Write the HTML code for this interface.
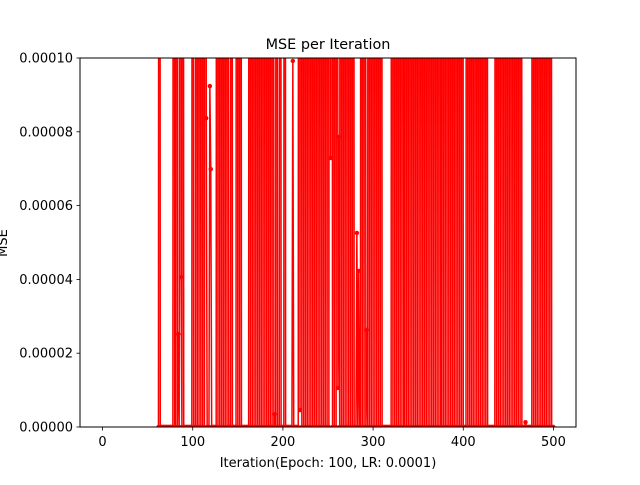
<!DOCTYPE html>
<html><head><meta charset="utf-8"><style>
body{margin:0;background:#fff}
svg text{font-family:"DejaVu Sans","Liberation Sans",sans-serif;fill:#000}
</style></head><body>
<svg id="chart" width="640" height="480" viewBox="0 0 640 480" xmlns="http://www.w3.org/2000/svg">
<rect width="640" height="480" fill="#fff"/>
<text x="328" y="49" font-size="14.4" text-anchor="middle">MSE per Iteration</text>
<defs><clipPath id="plotclip"><rect x="80" y="58" width="496" height="369"/></clipPath></defs>
<g id="series" clip-path="url(#plotclip)"></g>
<rect x="80" y="58" width="496" height="369" fill="none" stroke="#000" stroke-width="1"/>
<g id="xticks"></g>
<g id="yticks"></g>
<text x="328" y="467" font-size="13" text-anchor="middle">Iteration(Epoch: 100, LR: 0.0001)</text>
<text x="0" y="0" font-size="13" text-anchor="middle" transform="translate(7,243) rotate(-90)">MSE</text>
</svg>
<script>
const firstIter = 62;
const lastIter = 500;
const highIters = [63,79,82,86,89,100,104,106,108,110,112,114,127,129,131,133,135,137,139,143,149,151,153,
163,165,167,169,171,173,175,177,179,181,183,185,187,189,193,197,202,
218,220,222,224,226,228,230,232,234,236,238,240,242,244,246,248,250,252,254,256,258,260,264,266,268,270,272,274,276,278,
287,289,291,293,295,297,299,301,303,305,307,309,
321,323,325,327,329,331,333,336,338,340,342,344,346,348,350,352,354,356,358,360,362,364,366,368,370,372,374,
377,379,381,383,385,387,389,391,393,395,397,399,404,406,408,410,412,414,416,418,420,422,424,426,
436,438,440,442,444,446,448,450,452,454,456,458,460,462,464,477,479,481,483,485,487,489,491,493,495,497];
const highValue = 0.01;
const midIters = [84,87,115,119,120,191,211,219,253,261,262,282,284,293,469];
const midVals = [0.0000252,0.0000406,0.0000837,0.0000924,0.0000699,0.0000035,0.0000992,0.0000046,0.0000729,0.0000106,0.0000786,0.0000526,0.0000423,0.0000263,0.0000013];
const xTicks = [0,100,200,300,400,500];
const yTicks = [0,0.00002,0.00004,0.00006,0.00008,0.0001];
const yTickLabels = ["0.00000","0.00002","0.00004","0.00006","0.00008","0.00010"];

const values = new Array(lastIter + 1).fill(0);
highIters.forEach(i => values[i] = highValue);
midIters.forEach((i,k) => values[i] = midVals[k]);

const X = v => 80 + (v + 25) / 550 * 496;
const Y = v => 427 - v / 0.0001 * 369;
const NS = "http://www.w3.org/2000/svg";
const mk = (tag, attrs, parent) => { const e = document.createElementNS(NS, tag); for (const k in attrs) e.setAttribute(k, attrs[k]); parent.appendChild(e); return e; };

const g = document.getElementById('series');
const pts = [];
for (let i = firstIter; i <= lastIter; i++) pts.push(X(i).toFixed(2) + ',' + Math.max(-2000, Y(values[i])).toFixed(2));
const line = mk('polyline', {points: pts.join(' '), fill: 'none', stroke: '#ff0000', 'stroke-width': 1.5, 'stroke-linejoin': 'round'}, g);


for (let i = firstIter; i <= lastIter; i++) {
  const y = Y(values[i]);
  if (y < 50) continue;
  const c = mk('circle', {cx: X(i), cy: y, r: 2.2, fill: '#ff0000'}, g);
  
  
}

const xt = document.getElementById('xticks');
xTicks.forEach(t => {
  const l = mk('line', {x1: X(t), x2: X(t), y1: 427, y2: 430.5, stroke: '#000', 'stroke-width': 0.8}, xt);
  
  
  const tx = mk('text', {x: X(t), y: 446, 'font-size': 13, 'text-anchor': 'middle'}, xt);
  tx.textContent = String(t);
  
  
});
const yt = document.getElementById('yticks');
yTicks.forEach((t,k) => {
  const l = mk('line', {x1: 76.5, x2: 80, y1: Y(t), y2: Y(t), stroke: '#000', 'stroke-width': 0.8}, yt);
  
  
  const tx = mk('text', {x: 73, y: Y(t) + 4.5, 'font-size': 13, 'text-anchor': 'end'}, yt);
  tx.textContent = yTickLabels[k];
  
  
});
</script>
</body></html>
